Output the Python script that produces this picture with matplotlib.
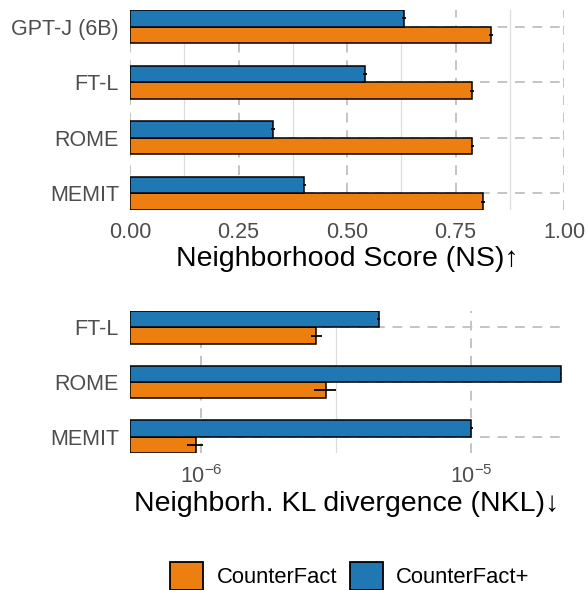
import matplotlib
matplotlib.use("Agg")
import matplotlib.pyplot as plt
from matplotlib.patches import Patch
from matplotlib.ticker import FixedLocator
import numpy as np

plt.rcParams["font.family"] = ["Liberation Sans", "DejaVu Sans"]
plt.rcParams["mathtext.fontset"] = "custom"
plt.rcParams["mathtext.rm"] = "Liberation Sans"
plt.rcParams["mathtext.it"] = "Liberation Sans:italic"

# Data
series = ["CounterFact", "CounterFact+"]
colors = ["#ED7F10", "#1F77B4"]

ns_methods = ["GPT-J (6B)", "FT-L", "ROME", "MEMIT"]
ns_cf = [0.832, 0.788, 0.789, 0.813]
ns_cf_err = [0.004, 0.004, 0.004, 0.004]
ns_cfp = [0.631, 0.542, 0.329, 0.402]
ns_cfp_err = [0.004, 0.004, 0.004, 0.004]

nkl_methods = ["FT-L", "ROME", "MEMIT"]
nkl_cf = [2.67e-6, 2.90e-6, 9.58e-7]
nkl_cf_lo = [2.55e-6, 2.61e-6, 8.88e-7]
nkl_cf_hi = [2.80e-6, 3.16e-6, 1.022e-6]
nkl_cfp = [4.55e-6, 2.136e-5, 1.0e-5]
nkl_cfp_lo = [4.49e-6, 2.12e-5, 0.99e-5]
nkl_cfp_hi = [4.61e-6, 2.15e-5, 1.01e-5]

TICK_GRAY = "#4D4D4D"
bar_h = 0.3
bar_kw = dict(height=bar_h, edgecolor="black", linewidth=1.1, zorder=3)
err_kw = dict(fmt="none", ecolor="black", elinewidth=1.3, capsize=0, zorder=4)


def style_axis(ax):
    for s in ax.spines.values():
        s.set_visible(False)
    ax.tick_params(axis="both", which="both", length=0, labelsize=15.5, labelcolor=TICK_GRAY)
    ax.tick_params(axis="x", pad=9)
    ax.tick_params(axis="y", pad=8)
    ax.grid(True, which="major", color="#C4C4C4", linewidth=1.4, linestyle=(0, (5, 4)), zorder=0)
    ax.grid(True, which="minor", axis="x", color="#DDDDDD", linewidth=0.9, linestyle="-", zorder=0)
    ax.set_axisbelow(True)


fig = plt.figure(figsize=(5.88, 5.90), dpi=100)

# Top panel: neighborhood score
ax1 = fig.add_axes([130 / 588, 1 - 210 / 590, 434 / 588, 200 / 590])
y1 = np.arange(len(ns_methods))
ax1.barh(y1 + bar_h / 2, ns_cf, color=colors[0], **bar_kw)
ax1.barh(y1 - bar_h / 2, ns_cfp, color=colors[1], **bar_kw)
ax1.errorbar(ns_cf, y1 + bar_h / 2, xerr=ns_cf_err, **err_kw)
ax1.errorbar(ns_cfp, y1 - bar_h / 2, xerr=ns_cfp_err, **err_kw)
ax1.set_xlim(0, 1.0)
ax1.set_ylim(len(ns_methods) - 1 + bar_h, -bar_h)
ax1.set_yticks(y1)
ax1.set_yticklabels(ns_methods)
ax1.set_xticks([0, 0.25, 0.5, 0.75, 1.0])
ax1.set_xticklabels(["0.00", "0.25", "0.50", "0.75", "1.00"])
ax1.xaxis.set_minor_locator(FixedLocator([0.125, 0.375, 0.625, 0.875]))
style_axis(ax1)
ax1.set_xlabel("Neighborhood Score (NS)\u2191", fontsize=20.5, color="black", labelpad=2)

# Bottom panel: neighborhood KL divergence
ax2 = fig.add_axes([130 / 588, 1 - 453 / 590, 434 / 588, 142 / 590])
xmin, xmax = 5.47e-7, 2.2e-5
y2 = np.arange(len(nkl_methods))
cf = np.array(nkl_cf)
cfp = np.array(nkl_cfp)
ax2.barh(y2 + bar_h / 2, cf - xmin, left=xmin, color=colors[0], **bar_kw)
ax2.barh(y2 - bar_h / 2, cfp - xmin, left=xmin, color=colors[1], **bar_kw)
ax2.errorbar(cf, y2 + bar_h / 2,
             xerr=[cf - np.array(nkl_cf_lo), np.array(nkl_cf_hi) - cf], **err_kw)
ax2.errorbar(cfp, y2 - bar_h / 2,
             xerr=[cfp - np.array(nkl_cfp_lo), np.array(nkl_cfp_hi) - cfp], **err_kw)
ax2.set_xscale("log")
ax2.set_xlim(xmin, xmax)
ax2.set_ylim(len(nkl_methods) - 1 + bar_h, -bar_h)
ax2.set_yticks(y2)
ax2.set_yticklabels(nkl_methods)
ax2.xaxis.set_major_locator(FixedLocator([1e-6, 1e-5]))
ax2.xaxis.set_minor_locator(FixedLocator([10 ** -5.5]))
ax2.xaxis.set_minor_formatter(plt.NullFormatter())
style_axis(ax2)
ax2.set_xlabel("Neighborh. KL divergence (NKL)\u2193", fontsize=20.5, color="black", labelpad=2)

# Legend
handles = [Patch(facecolor=c, edgecolor="black", linewidth=1.3) for c in colors]
fig.legend(handles, series, loc="center", bbox_to_anchor=(350 / 588, 1 - 576 / 590),
           ncol=2, frameon=False, fontsize=15.8, handlelength=1.5, handleheight=1.55,
           handletextpad=0.6, columnspacing=0.6)

fig.savefig("out.png", dpi=100)
